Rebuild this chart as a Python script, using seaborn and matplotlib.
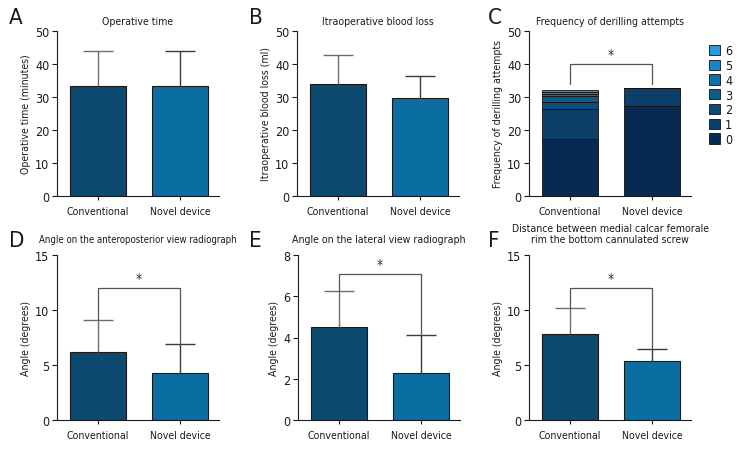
import numpy as np
import pandas as pd
import seaborn as sns
import matplotlib.pyplot as plt

groups = ["Conventional", "Novel device"]

# simple mean + SD panels
op_time = [33.2, 33.2]
op_time_sd = [10.6, 10.6]
blood_loss = [33.8, 29.8]
blood_loss_sd = [8.8, 6.7]
angle_ap = [6.2, 4.3]
angle_ap_sd = [2.9, 2.65]
angle_lat = [4.52, 2.3]
angle_lat_sd = [1.74, 1.8]
calcar_dist = [7.85, 5.35]
calcar_dist_sd = [2.35, 1.1]

# stacked frequency of derilling attempts (0..6)
attempt_levels = ["0", "1", "2", "3", "4", "5", "6"]
attempts_conv = [17.4, 9.0, 2.0, 1.8, 0.8, 0.6, 0.6]
attempts_novel = [27.2, 5.4, 0, 0, 0, 0, 0]
attempt_colors = ["#062a52", "#0c3f6a", "#0d4c78", "#0f5a86", "#116fa8", "#1686c8", "#2b9ad8"]

bar_colors = ["#0d4a6f", "#0a6ea3"]
err_colors = ["#6e6e6e", "#3a3a3a"]

sns.set_style("ticks")
plt.rcParams["font.family"] = ["DejaVu Sans"]
plt.rcParams["font.stretch"] = "condensed"
plt.rcParams["font.size"] = 8
for key in ["text.color", "axes.labelcolor", "xtick.color", "ytick.color", "axes.edgecolor"]:
    plt.rcParams[key] = "#1a1a1a"

fig = plt.figure(figsize=(7.56, 4.56), dpi=100)

W, H = 756, 456
FS = 7.6


def make_ax(left, top, bottom):
    return fig.add_axes([left / W, (H - bottom) / H, 162 / W, (bottom - top) / H])


def style_ax(ax, ymax, step, ylabel, title, tpad, tfs=FS):
    ax.set_xlim(-0.5, 1.47)
    ax.set_ylim(0, ymax)
    ax.set_yticks(np.arange(0, ymax + 0.01, step))
    ax.set_ylabel(ylabel, fontsize=FS, labelpad=3)
    ax.set_xlabel("")
    ax.set_title(title, fontsize=tfs, pad=tpad, linespacing=1.15)
    sns.despine(ax=ax)
    ax.tick_params(axis="x", length=3, width=0.8, labelsize=FS, pad=4)
    ax.tick_params(axis="y", length=3.5, width=0.8, labelsize=9, pad=2)
    for sp in ax.spines.values():
        sp.set_linewidth(0.8)


def mean_sd_panel(ax, means, sds, ymax, step, ylabel, title, tpad, tfs=FS):
    df = pd.DataFrame({"group": groups, "value": means})
    sns.barplot(data=df, x="group", y="value", hue="group", palette=bar_colors,
                saturation=1, width=0.68, edgecolor="#1a1a1a", linewidth=0.8,
                legend=False, ax=ax)
    for i, (m, s) in enumerate(zip(means, sds)):
        _, caps, _ = ax.errorbar(i, m, yerr=[[0], [s]], color=err_colors[i], capsize=11,
                                 elinewidth=1.0, capthick=1.0, zorder=1)
        caps[0].set_visible(False)
    style_ax(ax, ymax, step, ylabel, title, tpad, tfs)


def bracket(ax, y, leg_bottom, star_off):
    ax.plot([0, 0, 1, 1], [leg_bottom[0], y, y, leg_bottom[1]], color="#555555", lw=0.9,
            clip_on=False)
    ax.text(0.5, y + star_off, "*", ha="center", va="bottom", fontsize=10, color="#333333")


# A
axA = make_ax(57, 32, 197)
mean_sd_panel(axA, op_time, op_time_sd, 50, 10, "Operative time (minutes)", "Operative time", 5)

# B
axB = make_ax(297, 32, 197)
mean_sd_panel(axB, blood_loss, blood_loss_sd, 50, 10, "Itraoperative blood loss (ml)",
              "Itraoperative blood loss", 5)

# C stacked
axC = make_ax(529, 32, 197)
bottoms = np.zeros(2)
handles = []
for lvl, c, a, b in zip(attempt_levels, attempt_colors, attempts_conv, attempts_novel):
    vals = np.array([a, b])
    h = axC.bar([0, 1], vals, bottom=bottoms, width=0.68, color=c,
                edgecolor="#111111", linewidth=0.6, label=lvl)
    handles.append(h)
    bottoms += vals
axC.set_xticks([0, 1])
axC.set_xticklabels(groups)
style_ax(axC, 50, 10, "Frequency of derilling attempts", "Frequency of derilling attempts", 5)
bracket(axC, 40, (33.8, 33.8), 0.8)
axC.legend(handles[::-1], attempt_levels[::-1], loc="upper left", bbox_to_anchor=(1.08, 0.95),
           frameon=False, fontsize=9, handlelength=0.9, handleheight=0.9,
           handletextpad=0.4, labelspacing=0.14, borderaxespad=0)

# D
axD = make_ax(57, 256, 421)
mean_sd_panel(axD, angle_ap, angle_ap_sd, 15, 5, "Angle (degrees)",
              "Angle on the anteroposterior view radiograph", 9, tfs=6.9)
bracket(axD, 12, (angle_ap[0] + angle_ap_sd[0], angle_ap[1] + angle_ap_sd[1]), 0.3)

# E
axE = make_ax(298, 256, 421)
mean_sd_panel(axE, angle_lat, angle_lat_sd, 8, 2, "Angle (degrees)",
              "Angle on the lateral view radiograph", 9)
bracket(axE, 7.08, (angle_lat[0] + angle_lat_sd[0], angle_lat[1] + angle_lat_sd[1]), 0.15)

# F
axF = make_ax(529, 256, 421)
mean_sd_panel(axF, calcar_dist, calcar_dist_sd, 15, 5, "Angle (degrees)",
              "Distance between medial calcar femorale\nrim the bottom cannulated screw", 9)
bracket(axF, 12, (calcar_dist[0] + calcar_dist_sd[0], calcar_dist[1] + calcar_dist_sd[1]), 0.3)

# panel letters
for letter, x, y in [("A", 9, 8), ("B", 249, 8), ("C", 488, 8),
                     ("D", 9, 231), ("E", 249, 231), ("F", 488, 231)]:
    fig.text(x / W, 1 - y / H, letter, fontsize=16, va="top", ha="left")

fig.savefig("out.png", dpi=100)
